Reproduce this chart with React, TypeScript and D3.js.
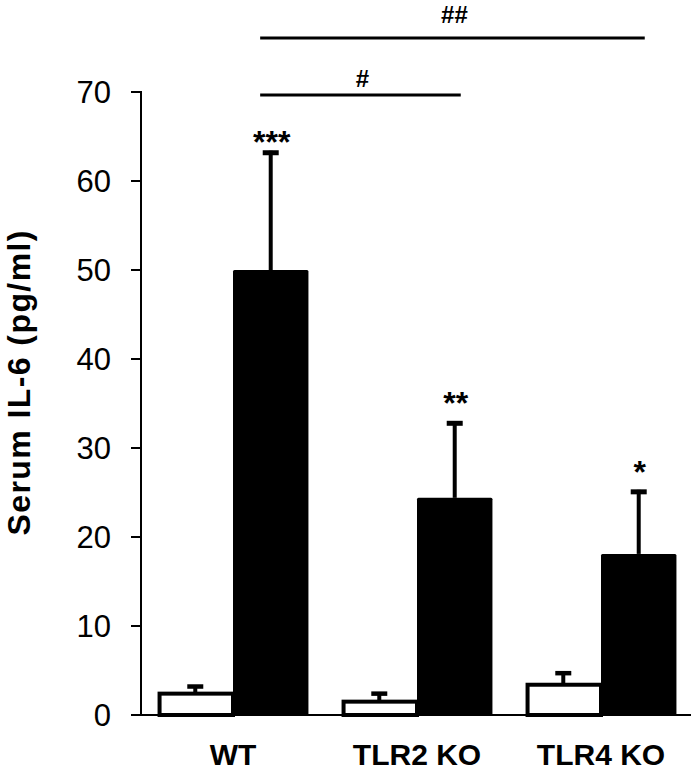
import React from "react";
import * as d3 from "d3";

const categories = ["WT", "TLR2 KO", "TLR4 KO"];
const controlValues = [2.4, 1.5, 3.4];
const controlErrors = [0.8, 0.9, 1.3];
const treatedValues = [50.0, 24.4, 18.1];
const treatedErrors = [13.4, 8.6, 7.2];
const treatedStars = ["***", "**", "*"];
const yTicks = [0, 10, 20, 30, 40, 50, 60, 70];
const sigBrackets = [
  { from: "WT", to: "TLR2 KO", label: "#", level: 0 },
  { from: "WT", to: "TLR4 KO", label: "##", level: 1 },
];

const W = 695;
const H = 772;
const FONT = "Liberation Sans, Arial, sans-serif";

export default function App() {
  const y = d3.scaleLinear().domain([0, 70]).range([715, 92]);
  const x = d3
    .scaleBand<string>()
    .domain(categories)
    .range([141, 693])
    .paddingInner(0.18)
    .paddingOuter(0.09);
  const bw = x.bandwidth();
  const half = bw / 2;
  const axisX = 141;

  return (
    <svg
      width={W}
      height={H}
      style={{ position: "absolute", left: 0, top: 0, background: "#fff" }}
      fontFamily={FONT}
    >
      {/* y axis */}
      <line x1={axisX} x2={axisX} y1={y(70) - 1} y2={y(0)} stroke="#000" strokeWidth={2} />
      {yTicks.map((t) => (
        <g key={t}>
          <line x1={axisX - 10} x2={axisX} y1={y(t)} y2={y(t)} stroke="#000" strokeWidth={2} />
          <text x={111} y={y(t)} dy="0.36em" textAnchor="end" fontSize={31}>
            {t}
          </text>
        </g>
      ))}
      {/* bars */}
      {categories.map((c, i) => {
        const x0 = x(c)!;
        const wx = x0 + 2;
        const cxW = x0 + half / 2;
        const cxB = x0 + half + half / 2;
        const capB = y(treatedValues[i] + treatedErrors[i]);
        const starGap = i === 0 ? 8 : 17;
        return (
          <g key={c}>
            {/* treated black */}
            <line
              x1={cxB}
              x2={cxB}
              y1={y(treatedValues[i])}
              y2={capB}
              stroke="#000"
              strokeWidth={4}
            />
            <line
              x1={cxB - 8}
              x2={cxB + 8}
              y1={capB + 2}
              y2={capB + 2}
              stroke="#000"
              strokeWidth={5}
            />
            <rect
              x={x0 + half}
              y={y(treatedValues[i])}
              width={half}
              height={y(0) - y(treatedValues[i])}
              fill="#000"
              rx={1.5}
            />
            <text
              x={cxB + 1}
              y={capB + 10 - starGap}
              textAnchor="middle"
              fontSize={32}
              fontWeight="bold"
            >
              {treatedStars[i]}
            </text>
            {/* control white */}
            <line
              x1={cxW}
              x2={cxW}
              y1={y(controlValues[i])}
              y2={y(controlValues[i] + controlErrors[i])}
              stroke="#000"
              strokeWidth={4}
            />
            <line
              x1={cxW - 8}
              x2={cxW + 8}
              y1={y(controlValues[i] + controlErrors[i])}
              y2={y(controlValues[i] + controlErrors[i])}
              stroke="#000"
              strokeWidth={4.5}
            />
            <rect
              x={wx}
              y={y(controlValues[i])}
              width={half - 2}
              height={y(0) - y(controlValues[i])}
              fill="#fff"
              stroke="#000"
              strokeWidth={4}
            />
            <text
              x={x0 + half}
              y={765}
              textAnchor="middle"
              fontSize={30}
              fontWeight="bold"
            >
              {c}
            </text>
          </g>
        );
      })}
      {/* x axis baseline */}
      <line x1={131} x2={691} y1={y(0)} y2={y(0)} stroke="#000" strokeWidth={2} />
      {/* significance brackets */}
      {sigBrackets.map((b) => {
        const x1 = x(b.from)! + bw * 0.68;
        const x2 = x(b.to)! + bw * 0.79;
        const ly = b.level === 0 ? 95 : 38;
        return (
          <g key={b.label}>
            <line x1={x1} x2={x2} y1={ly} y2={ly} stroke="#000" strokeWidth={3} />
            <text
              x={(x1 + x2) / 2 + 2}
              y={b.level === 0 ? ly - 8 : ly - 15}
              textAnchor="middle"
              fontSize={24}
              fontWeight="bold"
            >
              {b.label}
            </text>
          </g>
        );
      })}
      {/* y label */}
      <text
        transform={`translate(30,383) rotate(-90)`}
        textAnchor="middle"
        fontSize={32}
        fontWeight="bold"
        textLength={305}
        lengthAdjust="spacing"
      >
        Serum IL-6 (pg/ml)
      </text>
    </svg>
  );
}
